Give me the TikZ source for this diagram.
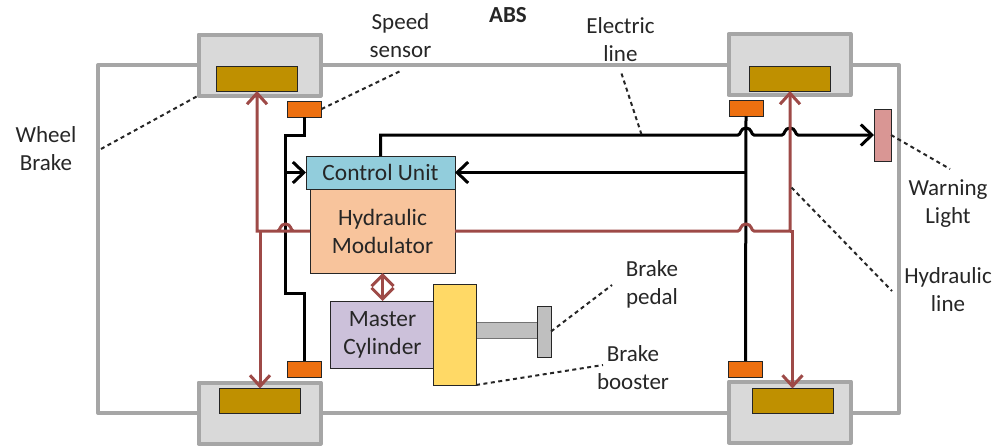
\documentclass[tikz,border=0pt]{standalone}
\usepackage{fontspec}
\setmainfont{Carlito}
\usetikzlibrary{positioning, arrows.meta, calc}
\definecolor{framegray}{HTML}{A6A6A6}
\definecolor{wheelgray}{HTML}{D9D9D9}
\definecolor{padgold}{HTML}{BF9000}
\definecolor{sensororange}{HTML}{ED7010}
\definecolor{unitblue}{HTML}{92CDDC}
\definecolor{modpeach}{HTML}{F8C49C}
\definecolor{masterlilac}{HTML}{CCC1DA}
\definecolor{boosteryellow}{HTML}{FFD966}
\definecolor{pedalgray}{HTML}{BFBFBF}
\definecolor{lightpink}{HTML}{D99694}
\definecolor{hydred}{HTML}{9E4A47}
\definecolor{labelink}{HTML}{262626}
\tikzset{
        my-box/.style={
            draw=black!85, line width=1pt, outer sep=0pt, inner sep=0pt, align=center,
            text=labelink, font=\fontsize{23.4}{28}\selectfont
        },
        my-wheel/.style={
            draw=framegray, fill=wheelgray, line width=4pt, line join=round, outer sep=0pt,
            minimum width=122pt, minimum height=61pt
        },
        my-pad/.style={my-box, fill=padgold, minimum width=81pt, minimum height=25pt},
        my-sensor/.style={my-box, fill=sensororange, minimum width=34pt, minimum height=16pt},
        my-label/.style={
            align=center, inner sep=0pt, text=labelink, font=\fontsize{23}{28}\selectfont
        },
        my-wire/.style={line width=3pt, black, line join=miter},
        my-pipe/.style={line width=3pt, hydred, line join=miter},
        my-wire-tip/.style={-{Straight Barb[length=11pt,width=21pt]}},
        my-pipe-tip/.style={-{Straight Barb[length=11pt,width=20pt]}},
        my-leader/.style={line width=2pt, black!85, dash pattern=on 4pt off 3.5pt},
        my-hop/.style={insert path={
            -- ($(#1)+(-8,0)$)
            .. controls ($(#1)+(-5,0)$) and ($(#1)+(-6,-7)$) .. ($(#1)+(0,-7)$)
            .. controls ($(#1)+(6,-7)$) and ($(#1)+(5,0)$) .. ($(#1)+(8,0)$)
        }},
}

\begin{document}
\begin{tikzpicture}[x=1pt, y=-1pt]

        \useasboundingbox (0,0) rectangle (993,447);

        %DRAW NODES (the control unit is the reference, the rest hangs off it)
        \node [my-box, fill=unitblue, minimum width=149pt, minimum height=33pt]  (CU)    at (380.5,172.5)           {Control Unit};
        \node [my-box, fill=modpeach, minimum width=145pt, minimum height=84pt]  (MOD)   at ($(CU)+(2,58.5)$)       {Hydraulic\\Modulator};

        % FRAME
        \node [draw=framegray, line width=4pt, line join=round, outer sep=0pt,
               minimum width=801pt, minimum height=348pt]                        (FRAME) at ($(CU)+(118,66.5)$)     {};

        % TEXT
        \node [my-label, font=\fontsize{23}{28}\selectfont\bfseries]             (ABS)   at ($(CU)+(127.5,-157.5)$) {ABS};
        \node [my-label]                                                         (SPEED) at ($(CU)+(20,-136.5)$)    {Speed\\sensor};
        \node [my-label]                                                         (ELEC)  at ($(CU)+(240,-133)$)     {Electric\\line};
        \node [my-label]                                                         (BRAKE) at ($(CU)+(-334.5,-23.5)$) {Wheel\\Brake};
        \node [my-label]                                                         (LIGHT) at ($(CU)+(567.5,31.5)$)   {Warning\\Light};
        \node [my-label]                                                         (HLINE) at ($(CU)+(567.5,117.5)$)  {Hydraulic\\line};
        \node [my-label]                                                         (PEDAL) at ($(CU)+(271.5,111.5)$)  {Brake\\pedal};
        \node [my-label]                                                         (BOOST) at ($(CU)+(252.5,195.5)$)  {Brake\\booster};

        % LEADER ENDS
        \coordinate (SPEEDEND) at ($(SPEED)+(2,34)$);
        \coordinate (ELECEND)  at ($(ELEC)+(1,34)$);
        \coordinate (ELECHIT)  at ($(ELEC)+(21,95)$);
        \coordinate (BRAKEEND) at ($(BRAKE)+(55,0)$);
        \coordinate (LIGHTEND) at ($(LIGHT)+(2,-35)$);
        \coordinate (HLINEEND) at ($(HLINE)+(-56,1)$);
        \coordinate (HLINEBEG) at ($(CU)+(411,15)$);
        \coordinate (PEDALEND) at ($(PEDAL)+(-40,1)$);
        \coordinate (BOOSTEND) at ($(BOOST)+(-30,-3)$);

        % WHEELS
        \node [my-wheel] (WHEELTL) at ($(CU)+(-121,-107.5)$) {};
        \node [my-wheel] (WHEELBL) at ($(CU)+(-121,240.5)$)  {};
        \node [my-wheel] (WHEELTR) at ($(CU)+(409,-108)$)    {};
        \node [my-wheel] (WHEELBR) at ($(CU)+(409.5,239.5)$) {};

        \node [my-pad]   (PADTL)   at ($(CU)+(-123.5,-94)$)  {};
        \node [my-pad]   (PADBL)   at ($(CU)+(-120.5,228.5)$) {};
        \node [my-pad]   (PADTR)   at ($(CU)+(409.5,-94)$)   {};
        \node [my-pad]   (PADBR)   at ($(CU)+(412,228.5)$)   {};

        \node [my-sensor] (SENSORTL) at ($(CU)+(-76,-63.5)$) {};
        \node [my-sensor] (SENSORBL) at ($(CU)+(-76,196.5)$) {};
        \node [my-sensor] (SENSORTR) at ($(CU)+(365.5,-64.5)$) {};
        \node [my-sensor] (SENSORBR) at ($(CU)+(365,196.5)$) {};

        % MASTER CYLINDER, BOOSTER AND PEDAL
        \node [my-box, fill=pedalgray, draw=black!55, line width=1.5pt, minimum width=64pt, minimum height=16pt] (ROD) at ($(CU)+(126,158)$) {};
        \node [my-box, fill=masterlilac, minimum width=104pt, minimum height=67pt] (MASTER) at ($(CU)+(2,162)$) {Master\\Cylinder};
        \node [my-box, fill=boosteryellow, minimum width=43pt, minimum height=101pt] (BOOSTER) at ($(CU)+(74,162)$) {};
        \node [my-box, fill=pedalgray, minimum width=14pt, minimum height=51pt] (PEDALBAR) at ($(CU)+(163.5,159)$) {};
        \node [my-box, fill=lightpink, minimum width=17pt, minimum height=52pt] (WARN) at ($(CU)+(502,-37.5)$) {};

        % HOP AND BEND POINTS
        \coordinate (TRUNKT) at ($(SENSORTL.south)+(-19,18)$);
        \coordinate (TRUNKB) at ($(SENSORBL.north)+(-19,-68)$);
        \coordinate (HOPA)   at (SENSORTR.south |- WARN.west);
        \coordinate (HOPB)   at (PADTR.south |- WARN.west);
        \coordinate (HOPC)   at (TRUNKT |- MOD.west);
        \coordinate (HOPD)   at (SENSORTR.south |- MOD.east);

        % CONNECT WIRES
        \draw [my-wire] (SENSORTL.south) |- (TRUNKT) -- (TRUNKB) -| (SENSORBL.north);
        \draw [my-wire, my-wire-tip] (TRUNKT |- CU.west) -- (CU.west);
        \draw [my-wire] (SENSORTR.south) -- (SENSORBR.north);
        \draw [my-wire, my-wire-tip] (SENSORTR.south |- CU.east) -- (CU.east);
        \draw [my-wire, my-wire-tip] (CU.north) -- (CU.north |- WARN.west) [my-hop=HOPA] [my-hop=HOPB] -- (WARN.west);

        % CONNECT PIPES
        \draw [my-pipe, my-pipe-tip] (MOD.west) [my-hop=HOPC] -- (PADTL.south |- MOD.west) -- (PADTL.south);
        \draw [my-pipe, my-pipe-tip] (PADBL.north |- MOD.west) -- (PADBL.north);
        \draw [my-pipe, my-pipe-tip] (MOD.east) [my-hop=HOPD] -- (PADTR.south |- MOD.east) -- (PADTR.south);
        \draw [my-pipe, my-pipe-tip] (PADTR.south |- MOD.east) -- (PADBR.north |- MOD.east) -- (PADBR.north);
        \draw [my-pipe, {Straight Barb[length=11pt,width=22pt]}-{Straight Barb[length=11pt,width=22pt]}] (MOD.south) -- (MASTER.north);

        % CONNECT LEADERS
        \draw [my-leader] (BRAKEEND) -- (WHEELTL.south west);
        \draw [my-leader] (SENSORTL.east) -- (SPEEDEND);
        \draw [my-leader] (ELECEND) -- (ELECHIT);
        \draw [my-leader] (WARN.east) -- (LIGHTEND);
        \draw [my-leader] (HLINEBEG) -- (HLINEEND);
        \draw [my-leader] (PEDALBAR.east) -- (PEDALEND);
        \draw [my-leader] (BOOSTER.south east) -- (BOOSTEND);

    \end{tikzpicture}
\end{document}
